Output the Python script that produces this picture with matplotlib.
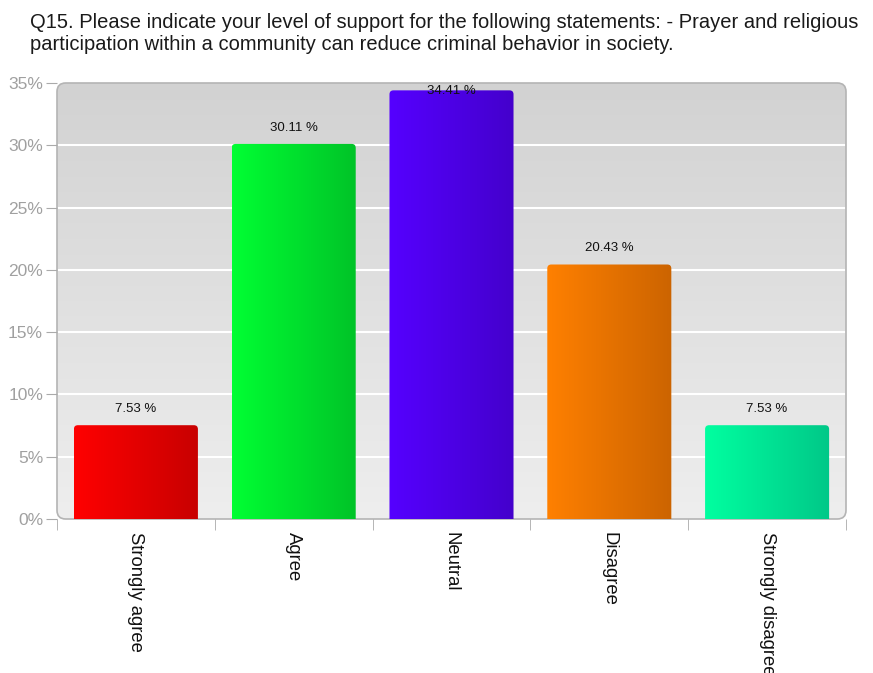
import numpy as np
import matplotlib
matplotlib.use('Agg')
import matplotlib.pyplot as plt
from matplotlib.patches import FancyBboxPatch

plt.rcParams['font.family'] = ['Liberation Sans', 'DejaVu Sans']

# Data
categories = ['Strongly agree', 'Agree', 'Neutral', 'Disagree', 'Strongly disagree']
values = [7.53, 30.11, 34.41, 20.43, 7.53]
left_colors = ['#ff0000', '#00ff33', '#5500ff', '#ff8000', '#00ffa0']
right_colors = ['#c80000', '#00c328', '#4400cc', '#cc6400', '#00c888']
y_ticks = [0, 5, 10, 15, 20, 25, 30, 35]

title_lines = ['Q15. Please indicate your level of support for the following statements: - Prayer and religious',
               'participation within a community can reduce criminal behavior in society.']

W, H = 873, 673
fig = plt.figure(figsize=(W / 100, H / 100), dpi=100)
fig.patch.set_facecolor('white')

# plot area in pixels
x0_px, x1_px, top_px, bot_px = 57, 846, 83, 519
ax = fig.add_axes([x0_px / W, 1 - bot_px / H, (x1_px - x0_px) / W, (bot_px - top_px) / H])
ax.set_facecolor('none')
for s in ax.spines.values():
    s.set_visible(False)

n = len(categories)
ymax = 35
ax_w = x1_px - x0_px
ax_h = bot_px - top_px

# rounded background with vertical gradient
bg = FancyBboxPatch((0, 0), 1, 1, boxstyle='round,pad=0,rounding_size=0.011',
                    mutation_aspect=ax_w / ax_h, transform=ax.transAxes,
                    facecolor='none', edgecolor='#b4b4b4', linewidth=1.2, zorder=1, clip_on=False)
ax.add_patch(bg)
grad = np.linspace(0, 1, 256)[:, None]
top_c = np.array([210, 210, 210]) / 255
bot_c = np.array([238, 238, 238]) / 255
bg_img = top_c[None, None, :] * (1 - grad[:, :, None]) + bot_c[None, None, :] * grad[:, :, None]
im = ax.imshow(bg_img, extent=[0, n, 0, ymax], aspect='auto', zorder=0, origin='upper')
im.set_clip_path(bg)

# grid lines
for t in y_ticks[1:-1]:
    ax.plot([0.01, n - 0.01], [t, t], color='white', linewidth=1.5, zorder=2)

def hex2rgb(h):
    h = h.lstrip('#')
    return np.array([int(h[i:i + 2], 16) for i in (0, 2, 4)]) / 255

bar_w = 0.786
px_x = ax_w / n
px_y = ax_h / ymax
for i, (v, lc, rc) in enumerate(zip(values, left_colors, right_colors)):
    xl = i + 0.5 - bar_w / 2
    r = 4 / px_x
    patch = FancyBboxPatch((xl, -1), bar_w, v + 1, boxstyle='round,pad=0,rounding_size=%f' % r,
                           mutation_aspect=px_x / px_y, facecolor='none',
                           edgecolor='none', zorder=3)
    ax.add_patch(patch)
    t = np.linspace(0, 1, 256)[None, :, None]
    img = hex2rgb(lc)[None, None, :] * (1 - t) + hex2rgb(rc)[None, None, :] * t
    bim = ax.imshow(img, extent=[xl, xl + bar_w, 0, v], aspect='auto', zorder=3)
    bim.set_clip_path(patch)
    ly = min(v + 1.3, 34.35)
    ax.text(i + 0.5, ly, '%.2f %%' % v, ha='center', va='center', fontsize=9.5,
            color='#111111', zorder=5, clip_on=False)

ax.set_xlim(0, n)
ax.set_ylim(0, ymax)

ax.set_yticks(y_ticks)
ax.set_yticklabels(['%d%%' % t for t in y_ticks])
ax.tick_params(axis='y', length=8, color='#aaaaaa', labelcolor='#a0a0a0', labelsize=12.5, pad=2)

ax.set_xticks([i + 0.5 for i in range(n)])
ax.set_xticklabels(categories, rotation=270, ha='center', va='top', fontsize=13.3)
ax.tick_params(axis='x', length=0, pad=9, labelcolor='#111111')
ax.set_xticks(range(n + 1), minor=True)
ax.tick_params(axis='x', which='minor', length=8, color='#aaaaaa')

for k, line in enumerate(title_lines):
    fig.text(30 / W, 1 - (22 + 23 * k) / H, line, ha='left', va='center', fontsize=14.5,
             color='#1a1a1a')

fig.savefig('out.png', dpi=100, facecolor='white')
